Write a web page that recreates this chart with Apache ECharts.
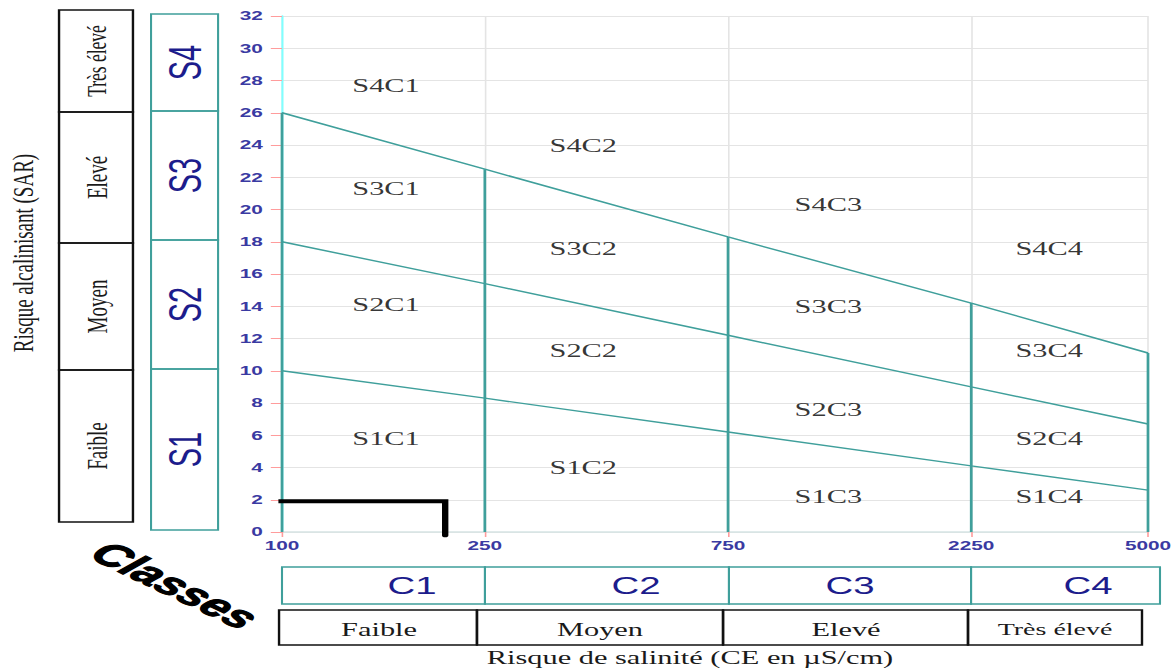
<!DOCTYPE html>
<html><head><meta charset="utf-8">
<script src="https://cdn.jsdelivr.net/npm/echarts@6/dist/echarts.min.js"></script>
<style>
html,body{margin:0;padding:0;background:#fff;overflow:hidden;}
#chart{width:735px;height:668px;transform:scaleX(1.6);transform-origin:0 0;}
</style></head><body><div id="chart"></div>
<script>
// ---- data ----
const ceTicks = [100, 250, 750, 2250, 5000];          // CE (µS/cm) class limits
const sarMin = 0, sarMax = 32, sarStep = 2;
const boundS1S2 = [10, 8.3, 6.2, 4.1, 2.6];           // SAR at each CE tick
const boundS2S3 = [18, 15.4, 12.2, 9.0, 6.7];
const boundS3S4 = [26, 22.5, 18.3, 14.2, 11.1];
const zoneNames = ['S4C1','S3C1','S2C1','S1C1','S4C2','S3C2','S2C2','S1C2','S4C3','S3C3','S2C3','S1C3','S4C4','S3C4','S2C4','S1C4'];
const zoneCE    = [160,160,160,160, 390,390,390,390, 1180,1180,1180,1180, 3200,3200,3200,3200];
const zoneSAR   = [27.7,21.3,14.1,5.8, 24,17.6,11.3,4, 20.3,14,7.6,2.2, 17.6,11.3,5.8,2.2];
const markCE  = [98, 209, 209];
const markSAR = [1.9, 1.9, -0.2];
const sClasses = ['S4','S3','S2','S1'];
const sRisk = ['Très élevé','Elevé','Moyen','Faible'];
const cClasses = ['C1','C2','C3','C4'];
const cRisk = ['Faible','Moyen','Elevé','Très élevé'];
const yTitle = 'Risque alcalinisant (SAR)';
const xTitle = 'Risque de salinité (CE en µS/cm)';
const classesTitle = 'Classes';

// ---- styles ----
const TEAL = '#3f9f9b';
const NAVY = '#1c1c8c';
const LBL = '#3a3aa2';
const L = Math.log10;

const series = [];
[boundS1S2, boundS2S3, boundS3S4].forEach(b => {
  series.push({type:'line', data: ceTicks.map((c,i)=>[L(c), b[i]]), symbol:'none',
    lineStyle:{color:TEAL, width:1.4}, silent:true, z:3});
});
ceTicks.forEach((c,i) => {
  series.push({type:'line', data:[[L(c),0],[L(c),boundS3S4[i]]], symbol:'none',
    lineStyle:{color:TEAL, width:1.7}, silent:true, z:3});
});
series.push({type:'line', data: markCE.map((c,i)=>[L(c), markSAR[i]]), symbol:'none', clip:false,
  lineStyle:{color:'#000', width:4, cap:'round', join:'miter'}, silent:true, z:5});
series.push({type:'scatter', symbolSize:0, silent:true,
  data: zoneNames.map((n,i)=>({name:n, value:[L(zoneCE[i]), zoneSAR[i]]})),
  label:{show:true, position:'inside', formatter:p=>p.name, color:'#000',
    fontFamily:'"Liberation Serif", "Times New Roman", serif', fontSize:19}});

const graphic = [];
const serif = '"Liberation Serif", "Times New Roman", serif';
const sans = '"Liberation Sans", Arial, sans-serif';
// left black boxes
const bB = [10,112,243,370,522];
sRisk.forEach((t,i)=>{
  graphic.push({type:'rect', shape:{x:36.9, y:bB[i], width:46.2, height:bB[i+1]-bB[i]},
    style:{fill:'none', stroke:'#111', lineWidth:1.5}});
  graphic.push({type:'text', x:60, y:(bB[i]+bB[i+1])/2, rotation:Math.PI/2,
    style:{text:t, font:(i===0?'17.5px ':'19px ')+serif, fill:'#1a1a1a', textAlign:'center', textVerticalAlign:'middle'}});
});
// left teal boxes
const tB = [14,111,240,369,530];
sClasses.forEach((t,i)=>{
  graphic.push({type:'rect', shape:{x:94.4, y:tB[i], width:41.9, height:tB[i+1]-tB[i]},
    style:{fill:'none', stroke:TEAL, lineWidth:1.3}});
  graphic.push({type:'text', x:115.3, y:(tB[i]+tB[i+1])/2, rotation:Math.PI/2,
    style:{text:t, font:'29px '+sans, fill:NAVY, textAlign:'center', textVerticalAlign:'middle'}});
});
// bottom teal boxes
const cB = [176.25,303.1,455.6,606.9,725];
const cX = [257.5,397.5,531.25,680];
cClasses.forEach((t,i)=>{
  graphic.push({type:'rect', shape:{x:cB[i], y:567, width:cB[i+1]-cB[i], height:37},
    style:{fill:'none', stroke:TEAL, lineWidth:1.3}});
  graphic.push({type:'text', x:cX[i], y:586,
    style:{text:t, font:'24px '+sans, fill:NAVY, textAlign:'center', textVerticalAlign:'middle'}});
});
// bottom black boxes
const rB = [174.4,298.1,451.9,605,713.75];
const rX = [236.9,375,528.75,659.4];
cRisk.forEach((t,i)=>{
  graphic.push({type:'rect', shape:{x:rB[i], y:610, width:rB[i+1]-rB[i], height:35},
    style:{fill:'none', stroke:'#111', lineWidth:1.5}});
  graphic.push({type:'text', x:rX[i], y:629,
    style:{text:t, font:(i===3?'17.5px ':'19px ')+serif, fill:'#1a1a1a', textAlign:'center', textVerticalAlign:'middle'}});
});
graphic.push({type:'text', x:431.25, y:657,
  style:{text:xTitle, font:'19px '+serif, fill:'#1a1a1a', textAlign:'center', textVerticalAlign:'middle'}});
graphic.push({type:'text', x:13.8, y:253, rotation:Math.PI/2,
  style:{text:yTitle, font:'19px '+serif, fill:'#1a1a1a', textAlign:'center', textVerticalAlign:'middle'}});
graphic.push({type:'text', x:109.5, y:585, rotation:-0.655,
  style:{text:classesTitle, font:'italic bold 32px '+sans, fill:'#000', stroke:'#000', lineWidth:1,
    textAlign:'center', textVerticalAlign:'middle'}});

const chart = echarts.init(document.getElementById('chart'), null, {renderer:'svg'});
chart.setOption({
  animation:false,
  backgroundColor:'#fff',
  grid:{left:176.25, right:17.5, top:16, bottom:136},
  xAxis:{type:'value', min:L(ceTicks[0]), max:L(ceTicks[ceTicks.length-1]),
    axisLine:{show:true, lineStyle:{color:'#d6e4e4', width:1.5}},
    axisTick:{show:true, length:5, lineStyle:{color:'#ff9c9c'}, customValues: ceTicks.map(L)},
    axisLabel:{customValues: ceTicks.map(L), formatter:v=>String(Math.round(Math.pow(10,v))),
      color:LBL, fontFamily:sans, fontWeight:'bold', fontSize:13, margin:7},
    splitLine:{show:true, lineStyle:{color:'#e4e4e4', width:1}}},
  yAxis:{type:'value', min:sarMin, max:sarMax, interval:sarStep,
    axisLine:{show:true, lineStyle:{color:'#80ffff', width:1.3}},
    axisTick:{show:true, length:7, lineStyle:{color:'#ff9c9c'}},
    axisLabel:{color:LBL, fontFamily:sans, fontWeight:'bold', fontSize:13, margin:12},
    splitLine:{show:true, lineStyle:{color:'#e4e4e4', width:1}}},
  series, graphic
});
</script></body></html>
